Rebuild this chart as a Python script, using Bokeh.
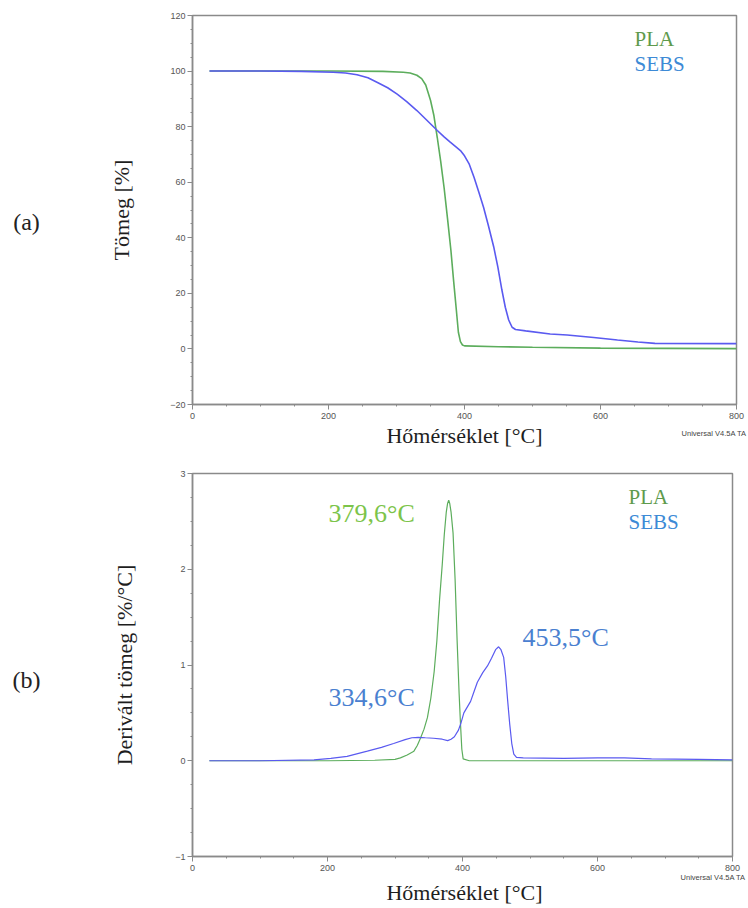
from bokeh.plotting import figure
from bokeh.models import Range1d, FixedTicker, Label
from bokeh.layouts import column, row
from bokeh.embed import file_html
from bokeh.resources import INLINE

# --- Thermogravimetric (TGA) curves: temperature [°C] vs. mass [%] ---
pla_tga_t = [25, 100, 200, 280, 310, 320, 330, 337, 343, 350, 355, 360, 365, 370, 375,
             380, 384, 388, 391, 394, 397, 400, 450, 500, 600, 700, 800]
pla_tga_w = [100, 100, 100, 99.9, 99.6, 99.3, 98.5, 97.3, 95, 89.5, 84, 76, 67.5, 58, 47,
             35.5, 24.5, 14, 6, 2.6, 1.4, 1.1, 0.8, 0.6, 0.3, 0.2, 0.1]

sebs_tga_t = [25, 100, 160, 207, 225, 242, 258, 272, 287, 301, 315, 330, 345, 360, 370,
              379, 387, 394, 400, 407, 414, 421, 428, 435, 443, 449, 455, 460, 465, 470,
              475, 490, 526, 551, 590, 625, 655, 680, 800]
sebs_tga_w = [100, 100, 99.9, 99.6, 99.3, 98.7, 97.6, 95.9, 94, 91.7, 89, 85.8, 82.2, 78.6, 76.3,
              74.4, 72.8, 71.4, 69.5, 66.5, 61.8, 56.5, 51, 44.5, 36.7, 29.5, 21.2, 15, 10.4, 7.8,
              7.0, 6.5, 5.4, 5.0, 4.1, 3.2, 2.5, 2.0, 1.9]

# --- Derivative (DTG) curves: temperature [°C] vs. derivative mass [%/°C] ---
pla_dtg_t = [25, 200, 270, 300, 308, 318, 328, 333, 338, 343, 348, 353, 358, 362, 366, 370,
             373, 376, 378, 379.6, 381, 383, 386, 389, 392, 395, 397, 399, 401, 410, 500, 800]
pla_dtg_d = [0, 0, 0.005, 0.015, 0.03, 0.06, 0.10, 0.16, 0.24, 0.33, 0.45, 0.65, 0.93, 1.25, 1.68, 2.05,
             2.36, 2.6, 2.69, 2.72, 2.69, 2.6, 2.38, 1.9, 1.26, 0.7, 0.39, 0.12, 0.02, 0.0, 0.0, 0.0]

sebs_dtg_t = [25, 100, 180, 205, 229, 259, 280, 298, 315, 325, 334.6, 345, 357, 370, 378, 383,
              388, 394, 398, 402, 407, 412, 417, 422, 430, 437, 443, 449, 453.5, 457, 461, 464,
              467, 470, 473, 476, 480, 490, 550, 600, 640, 680, 750, 800]
sebs_dtg_d = [0, 0, 0.01, 0.025, 0.045, 0.10, 0.14, 0.18, 0.22, 0.24, 0.245, 0.24, 0.235, 0.225, 0.21, 0.225,
              0.25, 0.32, 0.4, 0.5, 0.56, 0.62, 0.72, 0.82, 0.92, 0.99, 1.07, 1.16, 1.19, 1.16, 1.08, 0.88,
              0.62, 0.38, 0.18, 0.07, 0.035, 0.03, 0.025, 0.03, 0.03, 0.02, 0.015, 0.01]

# Peak temperatures written next to the DTG curves
peak_labels = ["379,6°C", "334,6°C", "453,5°C"]

# Axis ticks
x_major = [0, 200, 400, 600, 800]
x_minor = list(range(0, 801, 50))
tga_major = [-20, 0, 20, 40, 60, 80, 100, 120]
tga_minor = list(range(-20, 121, 5))
dtg_major = [-1, 0, 1, 2, 3]
dtg_minor = [-1 + 0.25 * i for i in range(17)]

X_TITLE = "Hőmérséklet [°C]"
NOTE = "Universal V4.5A TA"

PLA_LINE = "#5cad5c"
SEBS_LINE = "#5a5af0"
PLA_TEXT = "#5e9a4c"
SEBS_TEXT = "#3d8ad6"
SERIF = "Liberation Serif"
SANS = "Liberation Sans"
AXIS_GREY = "#8a8a8a"
TEXT_DARK = "#1e1e1e"

PAGE_W = 748
SIDE_W = 100   # strip on the left that holds the panel letter


def style(p, ymaj, ymin, ylab, ystand):
    p.xgrid.visible = False
    p.ygrid.visible = False
    p.outline_line_color = AXIS_GREY
    p.outline_line_width = 1.5
    p.xaxis.ticker = FixedTicker(ticks=x_major, minor_ticks=x_minor)
    p.yaxis.ticker = FixedTicker(ticks=ymaj, minor_ticks=ymin)
    for ax in (p.xaxis, p.yaxis):
        ax.axis_line_color = AXIS_GREY
        ax.axis_line_width = 1.5
        ax.major_tick_line_color = AXIS_GREY
        ax.minor_tick_line_color = AXIS_GREY
        ax.major_tick_in = 0
        ax.minor_tick_in = 0
        ax.major_tick_out = 5
        ax.minor_tick_out = 2
        ax.major_label_text_font = SANS
        ax.major_label_text_font_size = "9px"
        ax.major_label_text_color = "#555555"
        ax.axis_label_text_font = SERIF
        ax.axis_label_text_font_style = "normal"
        ax.axis_label_text_color = TEXT_DARK
        ax.axis_label_text_font_size = "22px"
    p.xaxis.major_label_standoff = 3
    p.yaxis.major_label_standoff = 2
    p.yaxis.axis_label = ylab
    p.yaxis.axis_label_standoff = ystand


def add_text(p, x, y, text, color, size, font=SERIF, align="left"):
    p.add_layout(Label(x=x, y=y, text=text, text_color=color, text_font=font,
                       text_font_size=size, text_align=align, text_baseline="middle"))


def text_strip(width, height):
    """Axis-free canvas whose frame fills it; coordinates are pixels, y downward."""
    s = figure(width=width, height=height, output_backend="svg", toolbar_location=None,
               x_range=Range1d(0, width), y_range=Range1d(height, 0),
               x_axis_location=None, y_axis_location=None,
               min_border=0, min_border_left=0, min_border_right=0,
               min_border_top=0, min_border_bottom=0)
    s.outline_line_color = None
    s.xgrid.visible = False
    s.ygrid.visible = False
    return s


# ---------------- (a) TGA ----------------
p1 = figure(width=PAGE_W - SIDE_W, height=422, output_backend="svg", toolbar_location=None,
            x_range=Range1d(0, 800), y_range=Range1d(-20, 120),
            min_border_left=92, min_border_right=12, min_border_top=15, min_border_bottom=18)
style(p1, tga_major, tga_minor, "Tömeg [%]", 33)
p1.line(pla_tga_t, pla_tga_w, line_color=PLA_LINE, line_width=1.6)
p1.line(sebs_tga_t, sebs_tga_w, line_color=SEBS_LINE, line_width=1.6)
add_text(p1, 650, 111.6, "PLA", PLA_TEXT, "21px")
add_text(p1, 650, 102.6, "SEBS", SEBS_TEXT, "21px")

side_a = text_strip(SIDE_W, 422)
add_text(side_a, 26, 224, "(a)", "#222222", "24px", align="center")

foot_a = text_strip(PAGE_W, 38)
add_text(foot_a, 464, 13, X_TITLE, TEXT_DARK, "22px", align="center")
add_text(foot_a, 746, 11, NOTE, "#444444", "7.5px", font=SANS, align="right")

# ---------------- (b) DTG ----------------
p2 = figure(width=PAGE_W - SIDE_W, height=413, output_backend="svg", toolbar_location=None,
            x_range=Range1d(0, 800), y_range=Range1d(-1, 3),
            min_border_left=92, min_border_right=16, min_border_top=13, min_border_bottom=16)
style(p2, dtg_major, dtg_minor, "Derivált tömeg [%/°C]", 35)
p2.line(pla_dtg_t, pla_dtg_d, line_color=PLA_LINE, line_width=1.2)
p2.line(sebs_dtg_t, sebs_dtg_d, line_color=SEBS_LINE, line_width=1.2)
add_text(p2, 646, 2.75, "PLA", PLA_TEXT, "21px")
add_text(p2, 646, 2.49, "SEBS", SEBS_TEXT, "21px")
add_text(p2, 201.5, 2.58, peak_labels[0], "#7cc44a", "26px")
add_text(p2, 201.5, 0.656, peak_labels[1], "#4a80d0", "26px")
add_text(p2, 489, 1.29, peak_labels[2], "#4a80d0", "26px")

side_b = text_strip(SIDE_W, 413)
add_text(side_b, 26, 223, "(b)", "#222222", "24px", align="center")

foot_b = text_strip(PAGE_W, 35)
add_text(foot_b, 464, 19, X_TITLE, TEXT_DARK, "22px", align="center")
add_text(foot_b, 745, 4, NOTE, "#444444", "7.5px", font=SANS, align="right")

layout = column(row(side_a, p1), foot_a, row(side_b, p2), foot_b)
open("out.html", "w").write(file_html(layout, INLINE))
